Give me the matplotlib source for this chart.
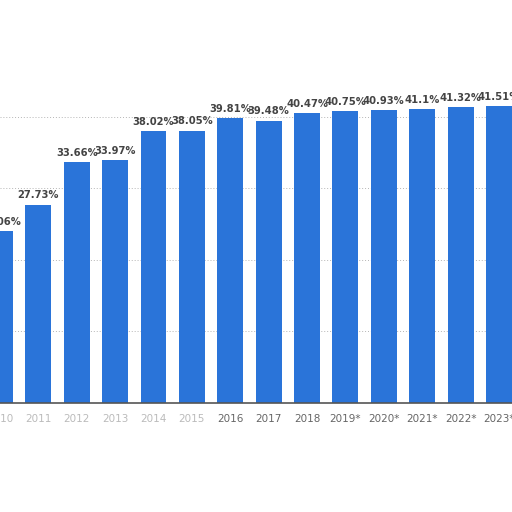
import matplotlib
matplotlib.use("Agg")
import matplotlib.pyplot as plt
import numpy as np

years = ["2010", "2011", "2012", "2013", "2014", "2015", "2016", "2017",
         "2018", "2019*", "2020*", "2021*", "2022*", "2023*"]
values = [24.06, 27.73, 33.66, 33.97, 38.02, 38.05, 39.81, 39.48,
          40.47, 40.75, 40.93, 41.1, 41.32, 41.51]
labels = ["24.06%", "27.73%", "33.66%", "33.97%", "38.02%", "38.05%", "39.81%",
          "39.48%", "40.47%", "40.75%", "40.93%", "41.1%", "41.32%", "41.51%"]

fig = plt.figure(figsize=(5.12, 5.12), dpi=100)
ax = fig.add_axes([0, 0.213, 1, 0.767])
x = np.arange(len(years))
ax.bar(x, values, width=0.675, color="#2a74d9", zorder=2)

for xi, v, lab in zip(x, values, labels):
    ax.text(xi, v + 0.6, lab, ha="center", va="bottom", fontsize=7.2,
            fontweight="bold", color="#444444")

for yv in [10, 20, 30, 40]:
    ax.axhline(yv, color="#b5b5b5", lw=0.7, ls=(0, (1, 2)), zorder=1)

ax.set_xlim(0.039, 13.34)
ax.set_ylim(0, 54.9)
ax.set_xticks(x)
ax.set_xticklabels(years, fontsize=7.5, color="#666666")
for i, t in enumerate(ax.get_xticklabels()):
    if i < 6:
        t.set_color("#bbbbbb")
ax.tick_params(axis="x", length=0, pad=8)
ax.set_yticks([])
for s in ["top", "left", "right"]:
    ax.spines[s].set_visible(False)
ax.spines["bottom"].set_color("#555555")
ax.spines["bottom"].set_linewidth(1.2)

fig.savefig("out.png", dpi=100)
